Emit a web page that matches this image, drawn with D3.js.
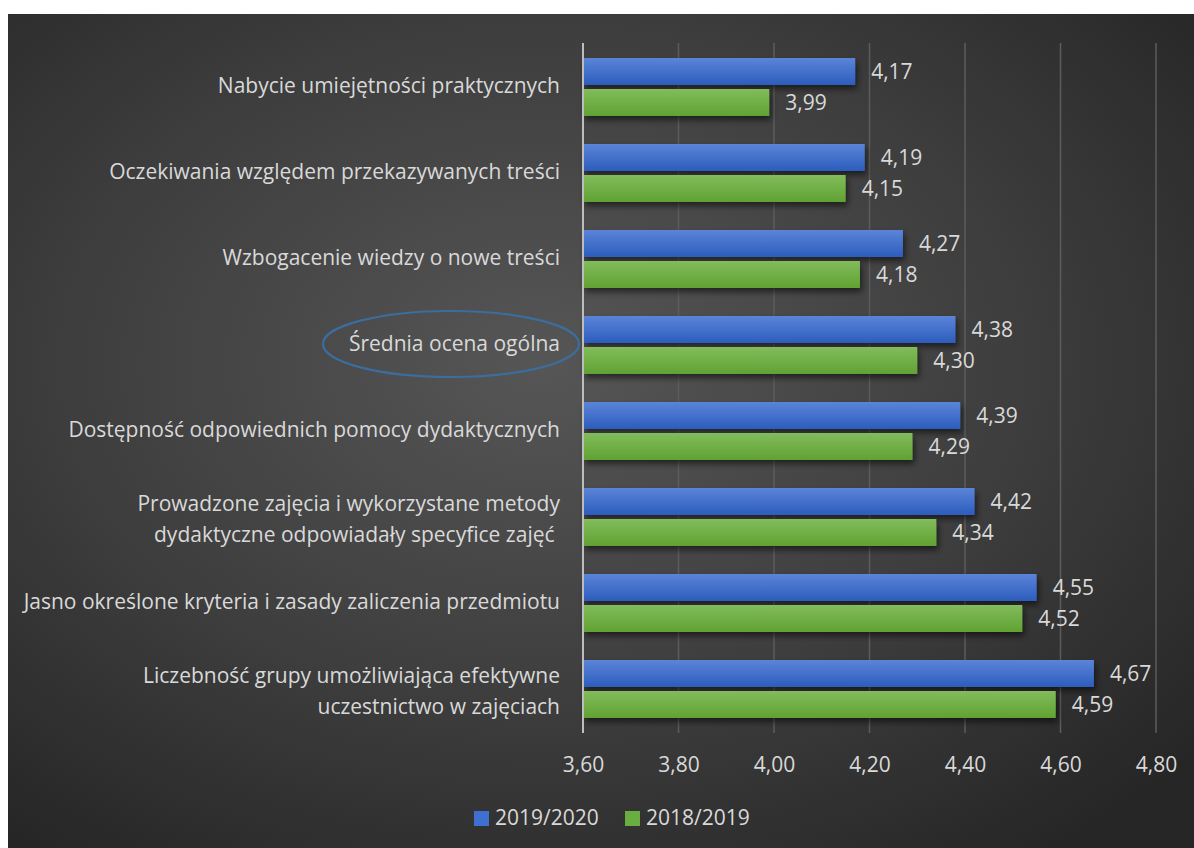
<!DOCTYPE html>
<html><head><meta charset="utf-8">
<script src="https://cdn.jsdelivr.net/npm/d3@7"></script>
<style>html,body{margin:0;padding:0;background:#fff;}svg{display:block;}</style>
</head><body>
<svg id="c" width="1194" height="848"></svg>
<script>
const categories = [
  ["Nabycie umiejętności praktycznych"],
  ["Oczekiwania względem przekazywanych treści"],
  ["Wzbogacenie wiedzy o nowe treści"],
  ["Średnia ocena ogólna"],
  ["Dostępność odpowiednich pomocy dydaktycznych"],
  ["Prowadzone zajęcia i wykorzystane metody", "dydaktyczne odpowiadały specyfice zajęć\u00a0"],
  ["Jasno określone kryteria i zasady zaliczenia przedmiotu"],
  ["Liczebność grupy umożliwiająca efektywne", "uczestnictwo w zajęciach"]
];
const series2019_2020 = [4.17, 4.19, 4.27, 4.38, 4.39, 4.42, 4.55, 4.67];
const series2018_2019 = [3.99, 4.15, 4.18, 4.30, 4.29, 4.34, 4.52, 4.59];
const seriesNames = ["2019/2020", "2018/2019"];
const tickValues = [3.6, 3.8, 4.0, 4.2, 4.4, 4.6, 4.8];
const highlighted = "Średnia ocena ogólna";

const svg = d3.select("#c");
const defs = svg.append("defs");
const bg = defs.append("radialGradient").attr("id","bg").attr("cx","0.45").attr("cy","0.42").attr("r","0.72");
bg.append("stop").attr("offset","0").attr("stop-color","#565656");
bg.append("stop").attr("offset","0.55").attr("stop-color","#3e3e3e");
bg.append("stop").attr("offset","1").attr("stop-color","#262626");
const gB = defs.append("linearGradient").attr("id","gB").attr("x1",0).attr("y1",0).attr("x2",0).attr("y2",1);
gB.append("stop").attr("offset",0).attr("stop-color","#5b84d8");
gB.append("stop").attr("offset",1).attr("stop-color","#2c5dbd");
const gG = defs.append("linearGradient").attr("id","gG").attr("x1",0).attr("y1",0).attr("x2",0).attr("y2",1);
gG.append("stop").attr("offset",0).attr("stop-color","#82bc5c");
gG.append("stop").attr("offset",1).attr("stop-color","#60a232");
const sh = defs.append("filter").attr("id","sh").attr("x","-5%").attr("y","-30%").attr("width","115%").attr("height","180%");
sh.append("feDropShadow").attr("dx",2).attr("dy",4).attr("stdDeviation",3).attr("flood-color","#000").attr("flood-opacity",0.55);

svg.append("rect").attr("x",8).attr("y",14).attr("width",1186).attr("height",834).attr("fill","url(#bg)");

const font = "'Open Sans', sans-serif";
const fs = 21;
const textCol = "#d9d9d9";

const x = d3.scaleLinear().domain([3.6, 4.8]).range([583, 1156]);
const y = d3.scaleBand().domain(d3.range(categories.length)).range([43, 731]).paddingInner(0).paddingOuter(0);
const bh = 27;

// gridlines
svg.append("g").selectAll("line").data(tickValues.slice(1)).join("line")
  .attr("x1", d=>x(d)).attr("x2", d=>x(d)).attr("y1", 43).attr("y2", 733)
  .attr("stroke","#5c5c5c").attr("stroke-width",1.5);

// x axis tick labels via d3 axis
const xAxis = d3.axisBottom(x).tickValues(tickValues).tickSize(0).tickPadding(0)
  .tickFormat(d => d3.format(".2f")(d).replace(".", ","));
const ax = svg.append("g").attr("transform","translate(0,758)").call(xAxis);
ax.select(".domain").remove();
ax.selectAll("text").attr("fill",textCol).attr("font-family",font).attr("font-size",fs).attr("dy","0.35em").attr("y",7);

// bars
const series = [series2019_2020, series2018_2019];
const fills = ["url(#gB)","url(#gG)"];
const offsets = [15, 46];
series.forEach((vals, si) => {
  const g = svg.append("g");
  g.selectAll("rect").data(vals).join("rect")
    .attr("x", x(3.6)).attr("y", (d,i)=>y(i)+offsets[si]).attr("height", bh)
    .attr("width", d=>x(d)-x(3.6)).attr("fill", fills[si]).attr("filter","url(#sh)");
  g.selectAll("text").data(vals).join("text")
    .attr("x", d=>x(d)+16).attr("y",(d,i)=>y(i)+offsets[si]+bh/2).attr("dy","0.35em")
    .attr("fill",textCol).attr("font-family",font).attr("font-size",fs)
    .text(d=>d3.format(".2f")(d).replace(".", ","));
});

// axis line at 3.60
svg.append("line").attr("x1",x(3.6)).attr("x2",x(3.6)).attr("y1",43).attr("y2",733)
  .attr("stroke","#bdbdbd").attr("stroke-width",2);

// category labels
const lab = svg.append("g");
categories.forEach((lines, i) => {
  const cy = y(i) + y.bandwidth()/2 + (lines.length>1 ? 3 : 0);
  const t = lab.append("text").attr("text-anchor","end").attr("fill",textCol)
    .attr("font-family",font).attr("font-size",fs).attr("xml:space","preserve");
  lines.forEach((ln, k) => {
    t.append("tspan").attr("x", 560).attr("y", cy + (k - (lines.length-1)/2)*31).attr("dy","0.35em").text(ln);
  });
});

// highlight ellipse
const hi = categories.findIndex(c=>c[0]===highlighted);
svg.append("ellipse").attr("cx",451).attr("cy", y(hi)+y.bandwidth()/2).attr("rx",128).attr("ry",33)
  .attr("fill","none").attr("stroke","#3b6d9e").attr("stroke-width",2.2);

// legend
const legFill = ["#3f6fcf","#6aad40"];
const legX = [474, 625];
seriesNames.forEach((n,i)=>{
  svg.append("rect").attr("x",legX[i]).attr("y",811).attr("width",15).attr("height",15).attr("fill",legFill[i]);
  svg.append("text").attr("x",legX[i]+21).attr("y",818).attr("dy","0.35em").attr("fill",textCol)
    .attr("font-family",font).attr("font-size",fs).text(n);
});
</script>
</body></html>
